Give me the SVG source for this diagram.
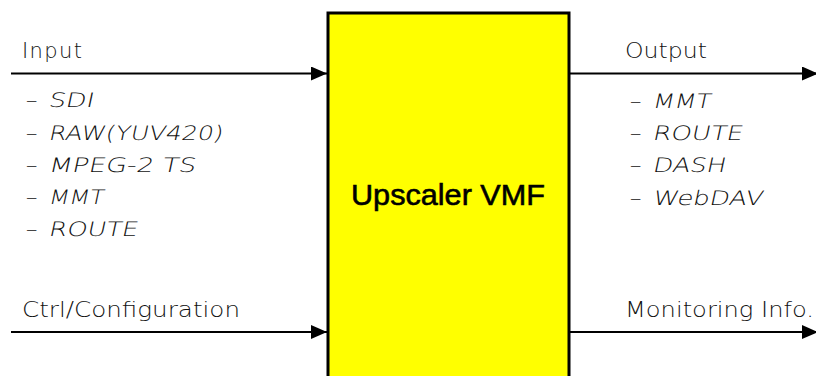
<svg xmlns="http://www.w3.org/2000/svg" width="816" height="376" viewBox="0 0 816 376">
  <style>
    .lbl { font-family: "DejaVu Sans", "Liberation Sans", sans-serif; font-size: 21px; font-weight: 200; fill: #111; }
    .item { font-family: "DejaVu Sans", "Liberation Sans", sans-serif; font-size: 20px; font-weight: 200; fill: #111; }
    .title { font-family: "Liberation Sans", Arial, sans-serif; font-size: 30px; fill: #000; stroke: #000; stroke-width: 0.6; }
    .wire { stroke: #000; stroke-width: 2; fill: none; }
  </style>
  <defs>
    <marker id="arrow" viewBox="0 0 16 14" refX="16" refY="7" markerWidth="16" markerHeight="14" markerUnits="userSpaceOnUse" orient="auto">
      <path d="M0,0 L16,7 L0,14 Z" fill="#000"/>
    </marker>
  </defs>

  <!-- central processing block -->
  <g id="upscaler-vmf">
    <rect x="328" y="13" width="241" height="380" fill="#ffff00" stroke="#000" stroke-width="3"/>
    <text class="title" x="448" y="205" text-anchor="middle" textLength="194" lengthAdjust="spacingAndGlyphs">Upscaler VMF</text>
  </g>

  <!-- connectors -->
  <g id="connectors">
    <line class="wire" x1="11" y1="73.5" x2="327" y2="73.5" marker-end="url(#arrow)"/>
    <line class="wire" x1="11" y1="332" x2="327" y2="332" marker-end="url(#arrow)"/>
    <line class="wire" x1="570" y1="73.5" x2="818" y2="73.5" marker-end="url(#arrow)"/>
    <line class="wire" x1="570" y1="332" x2="818" y2="332" marker-end="url(#arrow)"/>
  </g>

  <!-- input side: list entries are slanted around their baseline -->
  <g id="input">
    <text class="lbl" x="22" y="58" textLength="60" lengthAdjust="spacing">Input</text>
    <g transform="translate(0,107)"><text class="item" transform="skewX(-12)"><tspan x="24" textLength="13" lengthAdjust="spacingAndGlyphs">-</tspan> <tspan x="48" textLength="45" lengthAdjust="spacingAndGlyphs">SDI</tspan></text></g>
    <g transform="translate(0,140)"><text class="item" transform="skewX(-12)"><tspan x="24" textLength="13" lengthAdjust="spacingAndGlyphs">-</tspan> <tspan x="48" textLength="174" lengthAdjust="spacingAndGlyphs">RAW(YUV420)</tspan></text></g>
    <g transform="translate(0,172)"><text class="item" transform="skewX(-12)"><tspan x="24" textLength="13" lengthAdjust="spacingAndGlyphs">-</tspan> <tspan x="48" textLength="147" lengthAdjust="spacingAndGlyphs">MPEG-2 TS</tspan></text></g>
    <g transform="translate(0,204)"><text class="item" transform="skewX(-12)"><tspan x="24" textLength="13" lengthAdjust="spacingAndGlyphs">-</tspan> <tspan x="48" textLength="55" lengthAdjust="spacingAndGlyphs">MMT</tspan></text></g>
    <g transform="translate(0,236)"><text class="item" transform="skewX(-12)"><tspan x="24" textLength="13" lengthAdjust="spacingAndGlyphs">-</tspan> <tspan x="48" textLength="89" lengthAdjust="spacingAndGlyphs">ROUTE</tspan></text></g>
  </g>

  <g id="ctrl">
    <text class="lbl" x="22" y="317" textLength="218" lengthAdjust="spacingAndGlyphs">Ctrl/Configuration</text>
  </g>

  <!-- output side -->
  <g id="output">
    <text class="lbl" x="625" y="58" textLength="82" lengthAdjust="spacingAndGlyphs">Output</text>
    <g transform="translate(0,108)"><text class="item" transform="skewX(-12)"><tspan x="628" textLength="13" lengthAdjust="spacingAndGlyphs">-</tspan> <tspan x="652" textLength="58" lengthAdjust="spacingAndGlyphs">MMT</tspan></text></g>
    <g transform="translate(0,140)"><text class="item" transform="skewX(-12)"><tspan x="628" textLength="13" lengthAdjust="spacingAndGlyphs">-</tspan> <tspan x="652" textLength="90" lengthAdjust="spacingAndGlyphs">ROUTE</tspan></text></g>
    <g transform="translate(0,172)"><text class="item" transform="skewX(-12)"><tspan x="628" textLength="13" lengthAdjust="spacingAndGlyphs">-</tspan> <tspan x="652" textLength="73" lengthAdjust="spacingAndGlyphs">DASH</tspan></text></g>
    <g transform="translate(0,205)"><text class="item" transform="skewX(-12)"><tspan x="628" textLength="13" lengthAdjust="spacingAndGlyphs">-</tspan> <tspan x="652" textLength="110" lengthAdjust="spacingAndGlyphs">WebDAV</tspan></text></g>
  </g>

  <g id="monitoring">
    <text class="lbl" x="625" y="317" textLength="189" lengthAdjust="spacingAndGlyphs">Monitoring Info.</text>
  </g>
</svg>
